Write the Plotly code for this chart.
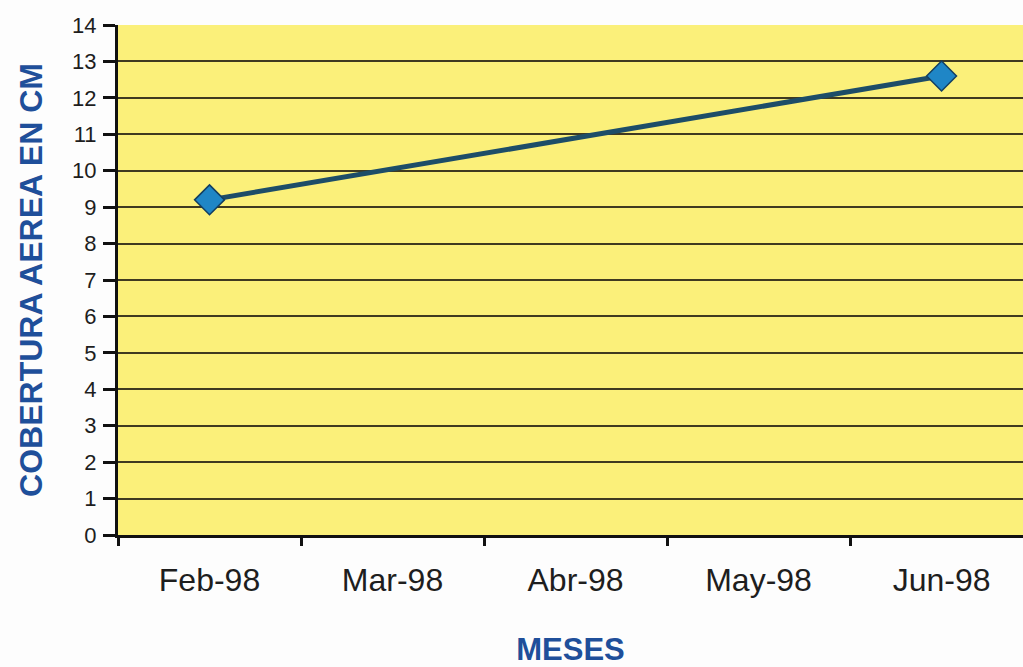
import plotly.graph_objects as go

months = ["Feb-98", "Mar-98", "Abr-98", "May-98", "Jun-98"]
cobertura = [9.2, None, None, None, 12.6]
y_ticks = list(range(0, 15))

fig = go.Figure()
fig.add_trace(go.Scatter(
    x=months, y=cobertura, mode="lines+markers", connectgaps=True,
    line=dict(color="#1d4d68", width=5),
    marker=dict(symbol="diamond", size=23, color="#1f86c6",
                line=dict(color="#123f63", width=1.5)),
    showlegend=False,
))

fig.update_layout(
    width=1023, height=667,
    margin=dict(l=118, r=0, t=25, b=132),
    paper_bgcolor="#fdfdfd",
    plot_bgcolor="#fbf07a",
    font=dict(family="Liberation Sans, Arial, sans-serif", color="#1e1e1e"),
)
fig.update_xaxes(
    type="category", categoryorder="array", categoryarray=months,
    range=[-0.5, 4.445], tickson="boundaries",
    ticks="outside", ticklen=8, tickwidth=3, tickcolor="#111",
    showline=True, linecolor="#111", linewidth=3,
    showgrid=False, tickfont=dict(size=32, color="#1e1e1e"),
    ticklabelstandoff=15,
    title=dict(text="<b>MESES</b>", font=dict(size=31, color="#1f4f9a"), standoff=44),
)
fig.update_yaxes(
    range=[0, 14], tickvals=y_ticks,
    ticks="outside", ticklen=12, tickwidth=3, tickcolor="#111",
    showline=True, linecolor="#111", linewidth=3,
    showgrid=True, gridcolor="#3f3a20", gridwidth=1.5,
    zeroline=False, tickfont=dict(size=22, color="#1e1e1e"),
    ticklabelstandoff=2,
    title=dict(text="<b>COBERTURA AEREA EN CM</b>", font=dict(size=32, color="#1f4f9a"), standoff=20),
)
fig.write_html("out.html")
